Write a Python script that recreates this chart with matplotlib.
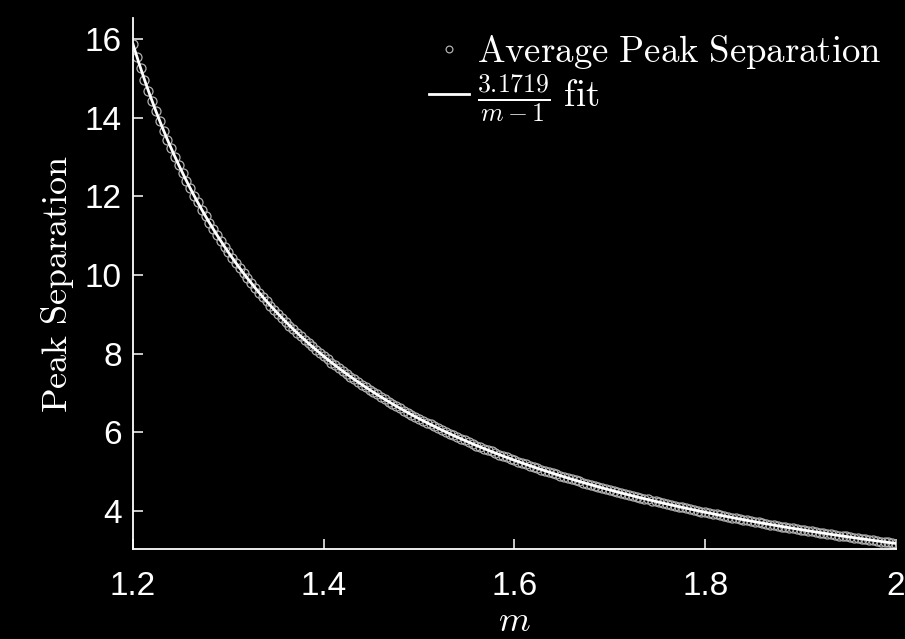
import numpy as np
import matplotlib
matplotlib.use("Agg")
import matplotlib.pyplot as plt

# ---- data ----
M_START = 1.2
M_END = 2.0
peak_sep = [
    15.86, 15.55, 15.25, 14.96, 14.68, 14.42, 14.16, 13.91, 13.67, 13.44,
    13.22, 13.00, 12.79, 12.59, 12.39, 12.20, 12.01, 11.84, 11.66, 11.49,
    11.33, 11.17, 11.01, 10.86, 10.72, 10.57, 10.43, 10.30, 10.17, 10.04,
    9.91, 9.79, 9.67, 9.55, 9.44, 9.33, 9.22, 9.11, 9.01, 8.91,
    8.81, 8.71, 8.62, 8.53, 8.44, 8.35, 8.26, 8.18, 8.09, 8.01,
    7.93, 7.85, 7.77, 7.70, 7.62, 7.55, 7.48, 7.41, 7.34, 7.28,
    7.21, 7.14, 7.08, 7.02, 6.96, 6.90, 6.84, 6.78, 6.72, 6.66,
    6.61, 6.55, 6.50, 6.45, 6.39, 6.34, 6.29, 6.24, 6.20, 6.15,
    6.10, 6.05, 6.01, 5.96, 5.92, 5.87, 5.83, 5.79, 5.75, 5.70,
    5.66, 5.62, 5.58, 5.55, 5.51, 5.47, 5.43, 5.39, 5.36, 5.32,
    5.29, 5.25, 5.22, 5.18, 5.15, 5.12, 5.08, 5.05, 5.02, 4.99,
    4.96, 4.93, 4.89, 4.86, 4.84, 4.81, 4.78, 4.75, 4.72, 4.69,
    4.66, 4.64, 4.61, 4.58, 4.56, 4.53, 4.51, 4.48, 4.45, 4.43,
    4.41, 4.38, 4.36, 4.33, 4.31, 4.29, 4.26, 4.24, 4.22, 4.20,
    4.17, 4.15, 4.13, 4.11, 4.09, 4.07, 4.05, 4.03, 4.00, 3.98,
    3.96, 3.95, 3.93, 3.91, 3.89, 3.87, 3.85, 3.83, 3.81, 3.79,
    3.78, 3.76, 3.74, 3.72, 3.71, 3.69, 3.67, 3.65, 3.64, 3.62,
    3.60, 3.59, 3.57, 3.56, 3.54, 3.52, 3.51, 3.49, 3.48, 3.46,
    3.45, 3.43, 3.42, 3.40, 3.39, 3.37, 3.36, 3.35, 3.33, 3.32,
    3.30, 3.29, 3.28, 3.26, 3.25, 3.24, 3.22, 3.21, 3.20, 3.18,
    3.17,
]
FIT_A = 3.1719
x_ticks = [1.2, 1.4, 1.6, 1.8, 2.0]
x_tick_labels = ["1.2", "1.4", "1.6", "1.8", "2"]
y_ticks = [4, 6, 8, 10, 12, 14, 16]
y_tick_labels = ["4", "6", "8", "10", "12", "14", "16"]

m_data = np.linspace(M_START, M_END, len(peak_sep))
m_fit = np.linspace(M_START, M_END, 400)
fit_vals = FIT_A / (m_fit - 1)

plt.rcParams["mathtext.fontset"] = "cm"
plt.rcParams["font.family"] = ["Liberation Sans", "DejaVu Sans"]

fig = plt.figure(figsize=(9.05, 6.39), dpi=100, facecolor="black")
ax = fig.add_axes([0.147, 0.1408, 0.843, 0.831], facecolor="black")

ax.plot(m_data, peak_sep, linestyle="none", marker="o", markersize=6.5,
        markerfacecolor="none", markeredgecolor="#b0b0b0", markeredgewidth=0.9,
        label=r"$\mathrm{Average\ Peak\ Separation}$", zorder=2)
ax.plot(m_fit, fit_vals, color="white", linewidth=2.0,
        label=r"$\frac{3.1719}{m-1}\ \mathrm{fit}$", zorder=3)

ax.set_xlim(M_START, M_END)
ax.set_ylim(3.03, 16.53)
ax.set_xticks(x_ticks)
ax.set_xticklabels(x_tick_labels)
ax.set_yticks(y_ticks)
ax.set_yticklabels(y_tick_labels)

for s in ["top", "right"]:
    ax.spines[s].set_visible(False)
for s in ["left", "bottom"]:
    ax.spines[s].set_color("white")
    ax.spines[s].set_linewidth(1.3)

ax.tick_params(axis="both", direction="in", length=7, width=1.1,
               colors="white", labelsize=24)
ax.tick_params(axis="x", pad=16)
ax.tick_params(axis="y", pad=8)

ax.set_xlabel(r"$m$", color="white", fontsize=26, labelpad=1)
ax.set_ylabel(r"$\mathrm{Peak\ Separation}$", color="white", fontsize=26, labelpad=6)

leg = ax.legend(loc="upper right", frameon=False, fontsize=26.5,
                handlelength=1.1, handletextpad=0.2, borderaxespad=0.0,
                labelspacing=0.05, labelcolor="white", markerscale=0.75)

fig.savefig("out.png", dpi=100, facecolor="black")
